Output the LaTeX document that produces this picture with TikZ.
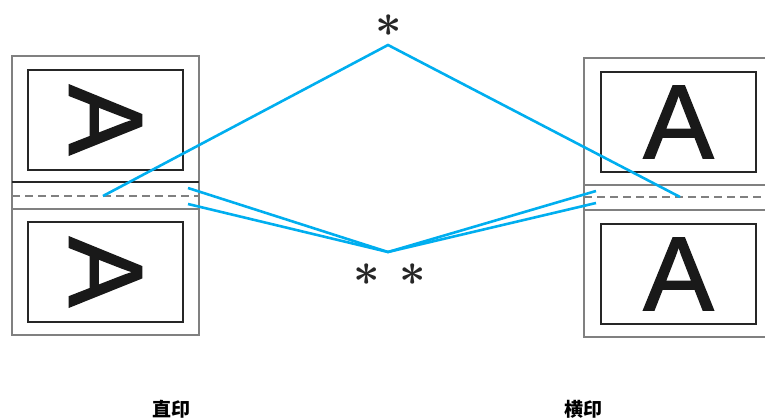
\documentclass[tikz,border=0pt]{standalone}
\usepackage{fontspec}
\setmainfont{Liberation Sans}
\newfontfamily\letterfont{Liberation Sans}[FakeBold=1.6]
\newfontfamily\cjk{Noto Sans CJK SC}
\usetikzlibrary{positioning}
\definecolor{guideblue}{RGB}{0,174,239}
\definecolor{framegray}{RGB}{128,128,128}
\tikzset{
  pageframe/.style={draw=framegray, line width=2pt},
  foldline/.style={draw=framegray, line width=1.6pt},
  cutline/.style={draw=framegray, line width=2pt, dash pattern=on 8pt off 5pt},
  sheetbox/.style={draw=black!85, line width=1.2pt, minimum width=155pt, minimum height=100pt, inner sep=0pt, font=\letterfont\fontsize{105}{105}\selectfont, text=black!90},
  guideline/.style={draw=guideblue, line width=2.6pt},
  starmark/.style={inner sep=0pt, text=black!85},
  printlabel/.style={font=\cjk\bfseries\fontsize{19}{19}\selectfont}
}
\newcommand{\bigstar}{\raisebox{-11.5pt}[11pt][11pt]{\scalebox{4.6}{\boldmath$\ast$}}}
\begin{document}
\begin{tikzpicture}[x=1pt,y=-1pt]
\useasboundingbox (0,0) rectangle (765,419);

% left sheet
\draw[pageframe] (12,56) rectangle (199,335);
\draw[black!85, line width=1.2pt] (12,182) -- (199,182);
\draw[foldline] (12,209) -- (199,209);
\draw[cutline] (12,196) -- (199,196);
\node[sheetbox] (lt) at (105.5,120) {\rotatebox{-90}{A}};
\node[sheetbox] (lb) at (105.5,272) {\rotatebox{-90}{A}};

% right sheet
\draw[pageframe] (775,58) -- (584,58) -- (584,337) -- (775,337);
\draw[foldline] (584,185) -- (775,185);
\draw[foldline] (584,210) -- (775,210);
\draw[cutline] (584,197) -- (775,197);
\node[sheetbox] (rt) at (678.5,122) {A};
\node[sheetbox] (rb) at (678.5,274) {A};

% guides
\coordinate (topapex) at (388,45);
\coordinate (lowapex) at (388,252);
\coordinate (ltip) at (103,196);
\coordinate (rtip) at (680,197);
\coordinate (la) at (188,188);
\coordinate (lb2) at (188,204);
\coordinate (ra) at (596,191);
\coordinate (rb2) at (596,203);
\draw[guideline] (ltip) -- (topapex) -- (rtip);
\draw[guideline] (la) -- (lowapex) -- (ra);
\draw[guideline] (lb2) -- (lowapex) -- (rb2);

\node[starmark] (s1) at (389,25) {\bigstar};
\node[starmark] (s2) at (367,274) {\bigstar};
\node[starmark] (s3) at (413,274) {\bigstar};

\node[printlabel] (l1) at (171,409) {直印};
\node[printlabel] (l2) at (583,409) {横印};
\end{tikzpicture}
\end{document}
